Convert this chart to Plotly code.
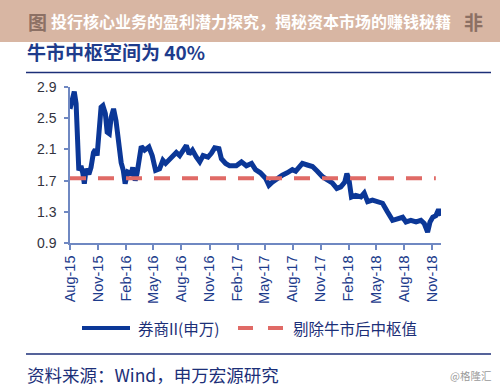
import plotly.graph_objects as go

# ---- data ----
dates = [
    "2015-08-01", "2015-08-07", "2015-08-15", "2015-08-21", "2015-08-24", "2015-08-30",
    "2015-09-06", "2015-09-12", "2015-09-17", "2015-09-23", "2015-10-02", "2015-10-09",
    "2015-10-17", "2015-10-23", "2015-10-29", "2015-11-05", "2015-11-11", "2015-11-17",
    "2015-11-25", "2015-12-01", "2015-12-08", "2015-12-14", "2015-12-22", "2015-12-30",
    "2016-01-07", "2016-01-16", "2016-01-23", "2016-01-29", "2016-02-07", "2016-02-18",
    "2016-02-23", "2016-03-02", "2016-03-08", "2016-03-16", "2016-03-22", "2016-04-02",
    "2016-04-16", "2016-04-27", "2016-05-08", "2016-05-21", "2016-06-01", "2016-06-10",
    "2016-06-23", "2016-07-04", "2016-07-15", "2016-07-26", "2016-08-06", "2016-08-17",
    "2016-08-26", "2016-09-06", "2016-09-19", "2016-09-30", "2016-10-11", "2016-10-27",
    "2016-11-07", "2016-11-18", "2016-12-02", "2016-12-10", "2016-12-24", "2017-01-06",
    "2017-01-28", "2017-02-14", "2017-03-02", "2017-03-19", "2017-04-01", "2017-04-17",
    "2017-05-04", "2017-05-15", "2017-05-26", "2017-06-11", "2017-06-28", "2017-07-14",
    "2017-07-31", "2017-08-11", "2017-08-21", "2017-09-02", "2017-09-18", "2017-10-05",
    "2017-10-21", "2017-11-07", "2017-11-23", "2017-12-09", "2017-12-24", "2018-01-06",
    "2018-01-19", "2018-01-26", "2018-02-02", "2018-02-10", "2018-02-24", "2018-03-13",
    "2018-03-24", "2018-04-04", "2018-04-20", "2018-05-07", "2018-05-23", "2018-06-08",
    "2018-06-25", "2018-07-11", "2018-07-28", "2018-08-08", "2018-08-24", "2018-09-10",
    "2018-09-26", "2018-10-07", "2018-10-18", "2018-10-26", "2018-11-04", "2018-11-14",
    "2018-11-23", "2018-12-01",
]
broker_index = [
    2.62, 2.71, 2.84, 2.69, 2.30, 1.83,
    1.89, 1.80, 1.66, 1.85, 1.78, 1.87,
    2.06, 2.10, 2.02, 2.30, 2.64, 2.66,
    2.56, 2.32, 2.30, 2.51, 2.62, 2.47,
    2.15, 1.93, 1.83, 1.66, 1.81, 1.79,
    1.87, 1.70, 1.79, 2.04, 2.14, 2.09,
    2.13, 2.02, 1.83, 1.85, 1.96, 1.92,
    1.98, 2.02, 2.06, 2.02, 2.10, 2.15,
    2.04, 2.09, 2.00, 1.94, 2.02, 2.00,
    2.05, 2.12, 2.11, 1.98, 1.92, 1.89,
    1.89, 1.94, 1.89, 1.92, 1.84, 1.80,
    1.73, 1.64, 1.68, 1.73, 1.77, 1.80,
    1.84, 1.82, 1.86, 1.92, 1.90, 1.88,
    1.82, 1.75, 1.71, 1.67, 1.60, 1.62,
    1.68, 1.79, 1.71, 1.49, 1.51, 1.49,
    1.54, 1.43, 1.45, 1.43, 1.41, 1.30,
    1.19, 1.21, 1.23, 1.17, 1.19, 1.17,
    1.19, 1.15, 1.04, 1.17, 1.23, 1.25,
    1.33, 1.25,
]
center_dates = ["2015-08-01", "2018-11-14"]
center_value = [1.73, 1.73]

tick_dates = [
    "2015-08-01", "2015-11-01", "2016-02-01", "2016-05-01", "2016-08-01", "2016-11-01",
    "2017-02-01", "2017-05-01", "2017-08-01", "2017-11-01", "2018-02-01", "2018-05-01",
    "2018-08-01", "2018-11-01",
]
y_ticks = [0.9, 1.3, 1.7, 2.1, 2.5, 2.9]

series_names = ["券商II(申万)", "剔除牛市后中枢值"]
banner_text = "投行核心业务的盈利潜力探究，揭秘资本市场的赚钱秘籍"
subtitle = "牛市中枢空间为 40%"
source_text = "资料来源：Wind，申万宏源研究"
watermark = "@格隆汇"

BLUE = "#0b3797"
RED = "#e06a66"
NAVY = "#1c2f78"
AXIS = "#6f88c2"
FONT = "Noto Sans CJK SC, Liberation Sans, Arial, sans-serif"

# plot-area geometry (pixels) for placing decorations
L, T, W, H = 70, 87, 371, 156
def px(x):
    return (x - L) / W
def py(y):
    return (T + H - y) / H

fig = go.Figure()
fig.add_trace(go.Scatter(x=dates, y=broker_index, mode="lines",
                         line=dict(color=BLUE, width=5), name=series_names[0],
                         showlegend=False))
fig.add_trace(go.Scatter(x=center_dates, y=center_value, mode="lines",
                         line=dict(color=RED, width=4, dash="16px,12px"),
                         name=series_names[1], showlegend=False))

shapes = [
    # top banner
    dict(type="rect", xref="paper", yref="paper", x0=px(0), x1=px(500), y0=py(0), y1=py(42),
         fillcolor="#d8b6a3", line=dict(width=0), layer="below"),
    # rules
    dict(type="line", xref="paper", yref="paper", x0=px(26), x1=px(491), y0=py(72.5), y1=py(72.5),
         line=dict(color=NAVY, width=1.6)),
    dict(type="line", xref="paper", yref="paper", x0=px(26), x1=px(491), y0=py(354), y1=py(354),
         line=dict(color=NAVY, width=1.6)),
    # legend samples
    dict(type="line", xref="paper", yref="paper", x0=px(82), x1=px(130), y0=py(328), y1=py(328),
         line=dict(color=BLUE, width=4)),
    dict(type="line", xref="paper", yref="paper", x0=px(238), x1=px(253), y0=py(328), y1=py(328),
         line=dict(color=RED, width=4)),
    dict(type="line", xref="paper", yref="paper", x0=px(268), x1=px(283), y0=py(328), y1=py(328),
         line=dict(color=RED, width=4)),
]

def ann(text, x, y, size, color, xanchor="left", bold=False):
    t = f"<b>{text}</b>" if bold else text
    return dict(text=t, x=px(x), y=py(y), xref="paper", yref="paper", showarrow=False,
                xanchor=xanchor, yanchor="middle", font=dict(size=size, color=color, family=FONT))

annotations = [
    ann("图", 26, 22, 19, "#8c7064", bold=True),
    ann("非", 462, 22, 19, "#8c7064", bold=True),
    ann(banner_text, 251, 21, 16, "white", xanchor="center", bold=True),
    ann(subtitle, 25, 52, 19, "#1e3c8c", bold=True),
    ann(series_names[0], 136, 328, 15.5, NAVY),
    ann(series_names[1], 291, 328, 15.5, NAVY),
    ann(source_text, 25, 374, 17.5, NAVY),
    ann(watermark, 493, 375, 10.5, "#9a9a9a", xanchor="right"),
]

fig.update_layout(
    width=500, height=389,
    margin=dict(l=L, r=500 - L - W, t=T, b=389 - T - H),
    paper_bgcolor="white", plot_bgcolor="white",
    font=dict(family=FONT),
    shapes=shapes, annotations=annotations,
)
fig.update_xaxes(type="date", range=["2015-08-01", "2018-12-01"], tickvals=tick_dates,
                 tickformat="%b-%y", tickangle=-90, showgrid=False, zeroline=False,
                 showline=True, linecolor=AXIS, linewidth=1.5, ticks="outside", ticklen=5,
                 tickcolor=AXIS, tickwidth=1.5,
                 tickfont=dict(size=14.5, color="#1e3c8c", family="Liberation Sans, Arial, sans-serif"))
fig.update_yaxes(range=[0.9, 2.9], tickvals=y_ticks, ticktext=[f"{v:.1f}" for v in y_ticks],
                 showgrid=False, zeroline=False, showline=True, linecolor=AXIS, linewidth=1.5,
                 ticks="outside", ticklen=4, tickcolor=AXIS, tickwidth=1.5, ticklabelstandoff=5,
                 tickfont=dict(size=14, color="#333340", family="Liberation Sans, Arial, sans-serif"))

fig.write_html("out.html", config={"displayModeBar": False},
               post_script="document.body.style.margin='0';document.body.style.overflow='hidden';")
